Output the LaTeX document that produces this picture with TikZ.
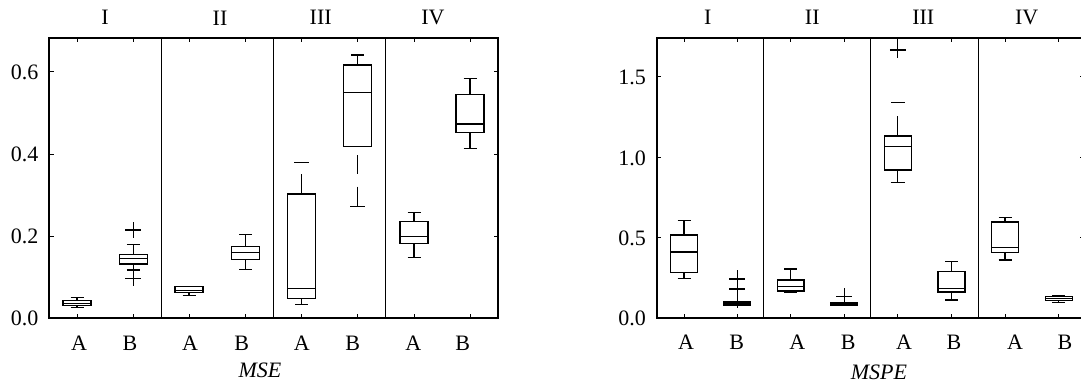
\documentclass[tikz,border=0pt]{standalone}
\usepackage{fontspec}
\setmainfont{Liberation Serif}
\begin{document}
\begin{tikzpicture}[x=1pt,y=-1pt,
  frame/.style={line width=1.7pt},
  divider/.style={line width=1.1pt},
  bx/.style={line width=1.2pt},
  lbl/.style={inner sep=0pt,font=\fontsize{22}{26}\selectfont},
  ylbl/.style={lbl,anchor=east},
  xlbl/.style={lbl,anchor=center}]
\newcommand{\bxp}[7]{%
  \draw[bx] (#1-#7,#3) rectangle (#1+#7,#5);
  \draw[bx] (#1-#7,#4) -- (#1+#7,#4);
  \draw[bx] (#1,#3) -- (#1,#2) (#1-6.5,#2) -- (#1+6.5,#2);
  \draw[bx] (#1,#5) -- (#1,#6) (#1-6.5,#6) -- (#1+6.5,#6);}
\newcommand{\plusmk}[2]{\draw[bx] (#1-8,#2) -- (#1+8,#2) (#1,#2-8) -- (#1,#2+8);}
\useasboundingbox[fill=white] (0,0) rectangle (1081,384);
\clip (0,0) rectangle (1081,384);
% ================= LEFT PANEL (MSE) =================
\foreach \d in {161.5,273.5,385.5} \draw[divider] (\d,37.7) -- (\d,318);
\foreach \t in {77,133,189,245.7,301.7,357.7,414,470}
  {\draw[bx,line width=1pt] (\t,37.7) -- (\t,42) (\t,318) -- (\t,313.7);}
\foreach \v in {71.3,154,236}
  {\draw[bx,line width=1pt] (49,\v) -- (53.5,\v) (498,\v) -- (493.5,\v);}
\draw[frame] (49,37.7) rectangle (498,318);
\node[ylbl] (l06) at (38.5,72) {0.6};
\node[ylbl] (l04) at (38.5,154.5) {0.4};
\node[ylbl] (l02) at (38.5,236.5) {0.2};
\node[ylbl] (l00) at (38.5,318.5) {0.0};
\node[xlbl] (lgI) at (105,17) {I};
\node[xlbl] (lgII) at (220,18) {II};
\node[xlbl] (lgIII) at (320.7,17) {III};
\node[xlbl] (lgIV) at (433,17) {IV};
\node[xlbl] (la1) at (79,343) {A};
\node[xlbl] (lb1) at (130,343) {B};
\node[xlbl] (la2) at (190,343) {A};
\node[xlbl] (lb2) at (241.7,343) {B};
\node[xlbl] (la3) at (301.7,343) {A};
\node[xlbl] (lb3) at (352.7,343) {B};
\node[xlbl] (la4) at (413.3,343) {A};
\node[xlbl] (lb4) at (462.7,343) {B};
\node[xlbl] (lmse) at (260,370) {\itshape MSE};
% boxes
\bxp{77}{297.3}{300.3}{303.3}{305.7}{307.7}{14}
\bxp{133.3}{244.7}{254.3}{258.3}{264}{270}{14}
\plusmk{133.3}{230}
\plusmk{133.3}{278.3}
\bxp{189}{286.7}{286.7}{290.5}{292.7}{295.3}{14}
\bxp{245.7}{234.7}{246.7}{252.3}{259.3}{269.3}{14}
% III A
\draw[bx] (301.7-14,194) rectangle (301.7+14,298.3);
\draw[bx] (301.7-14,288.7) -- (301.7+14,288.7);
\draw[bx] (301.7,194) -- (301.7,174.3);
\draw[bx] (294.3,162.3) -- (309.3,162.3);
\draw[bx] (301.7,298.3) -- (301.7,304.7) (295.2,304.7) -- (308.2,304.7);
% III B
\draw[bx] (357.7-14,65) rectangle (357.7+14,146.7);
\draw[bx] (357.7-14,92.7) -- (357.7+14,92.7);
\draw[bx] (357.7,65) -- (357.7,55) (351.2,55) -- (364.2,55);
\draw[bx] (357.7,155) -- (357.7,174.3);
\draw[bx] (357.7,186.7) -- (357.7,206.7) (350,206.7) -- (365.4,206.7);
% IV
\bxp{414}{212.7}{221.7}{236.7}{243.3}{257.7}{14}
\bxp{470}{78.3}{94.3}{124}{132.3}{148.7}{14}
% ================= RIGHT PANEL (MSPE) =================
\foreach \d in {763.5,870.5,978.5} \draw[divider] (\d,37.7) -- (\d,318);
\foreach \t in {684,737.3,790.7,844.3,897.8,951.5,1005,1058.7}
  {\draw[bx,line width=1pt] (\t,37.7) -- (\t,42) (\t,318) -- (\t,313.7);}
\foreach \v in {76.7,157.7,237.7}
  {\draw[bx,line width=1pt] (656.7,\v) -- (661.2,\v) (1085.5,\v) -- (1079.5,\v);}
\draw[frame] (656.7,37.7) rectangle (1085.5,318);
\node[ylbl] (r15) at (646,77) {1.5};
\node[ylbl] (r10) at (646,158) {1.0};
\node[ylbl] (r05) at (646,238) {0.5};
\node[ylbl] (r00) at (646,318.5) {0.0};
\node[xlbl] (rgI) at (707.7,17) {I};
\node[xlbl] (rgII) at (812.3,17) {II};
\node[xlbl] (rgIII) at (923.3,17) {III};
\node[xlbl] (rgIV) at (1026.7,17) {IV};
\node[xlbl] (ra1) at (686,342) {A};
\node[xlbl] (rb1) at (736.7,342) {B};
\node[xlbl] (ra2) at (797.3,342) {A};
\node[xlbl] (rb2) at (848.3,342) {B};
\node[xlbl] (ra3) at (904,342) {A};
\node[xlbl] (rb3) at (954,342) {B};
\node[xlbl] (ra4) at (1015,342) {A};
\node[xlbl] (rb4) at (1065,342) {B};
\node[xlbl] (rmspe) at (879,372) {\itshape MSPE};
% boxes
\bxp{684}{220.7}{235}{252}{272.3}{278.7}{13.3}
% I B
\draw[bx,line width=2.4pt] (737.3-13.5,302.7) -- (737.3+13.5,302.7);
\draw[bx] (737.3-13.5,301.2) rectangle (737.3+13.5,305);
\draw[bx] (737.3,301.2) -- (737.3,270) (737.3,305) -- (737.3,307.5);
\draw[bx] (729.3,279) -- (745.3,279) (729.3,289) -- (745.3,289);
% II A
\bxp{790.7}{269}{280}{286.7}{291}{292.5}{13.3}
% II B
\draw[bx] (844.3-13.5,302.8) rectangle (844.3+13.5,305.5);
\draw[bx,line width=2pt] (844.3-13.5,304) -- (844.3+13.5,304);
\draw[bx] (844.3,302.8) -- (844.3,288) (836.3,296.7) -- (852.3,296.7);
% III A
\draw[bx] (897.8-13.5,136) rectangle (897.8+13.5,170);
\draw[bx] (897.8-13.5,146.7) -- (897.8+13.5,146.7);
\draw[bx] (897.8,136) -- (897.8,116);
\draw[bx] (891,102.3) -- (905,102.3);
\draw[bx] (897.8,170) -- (897.8,182.3) (890.5,182.3) -- (905.1,182.3);
\plusmk{897.8}{50}
% III B
\bxp{951.5}{261.3}{271.7}{288.7}{292}{300}{13.5}
% IV
\bxp{1005}{217.3}{222}{247.3}{252.7}{260}{13.5}
\bxp{1058.7}{296}{296.7}{298.7}{300.7}{302.7}{13.5}
\end{tikzpicture}
\end{document}
